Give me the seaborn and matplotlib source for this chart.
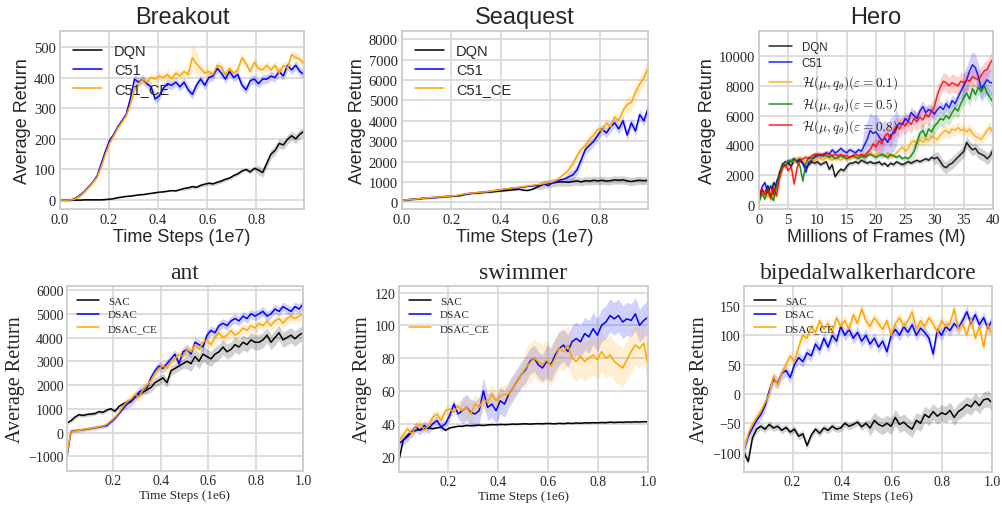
import numpy as np
import matplotlib
matplotlib.use("Agg")
import matplotlib.pyplot as plt
import seaborn as sns

# ---------------- data ----------------
# Atari (top row), x in units of 1e7 steps
atari_steps = np.linspace(0, 0.995, 60)

breakout_dqn = [0, 0, 0, 0, 0, 0, 1, 1, 1, 1,
                1, 2, 3, 5, 8, 10, 12, 13, 15, 17,
                18, 20, 22, 24, 26, 27, 29, 31, 30, 34,
                38, 40, 44, 42, 48, 52, 55, 53, 58, 62,
                68, 72, 80, 86, 95, 100, 92, 104, 98, 90,
                120, 150, 162, 185, 180, 198, 210, 200, 215, 225]
breakout_c51 = [0, 0, 0, 2, 8, 18, 30, 45, 60, 80,
                120, 160, 195, 215, 240, 260, 280, 330, 395, 385,
                395, 380, 370, 330, 340, 365, 380, 375, 385, 370,
                385, 360, 345, 375, 395, 375, 400, 405, 430, 415,
                395, 420, 400, 410, 375, 360, 390, 395, 380, 395,
                395, 405, 400, 420, 405, 440, 425, 440, 420, 410]
breakout_ce = [0, 0, 0, 1, 6, 15, 28, 42, 58, 75,
               110, 150, 185, 210, 235, 255, 275, 310, 360, 380,
               395, 385, 400, 395, 405, 400, 410, 395, 415, 405,
               420, 410, 465, 445, 430, 415, 420, 410, 440, 435,
               410, 430, 415, 425, 465, 445, 420, 450, 430, 425,
               440, 425, 440, 415, 440, 430, 475, 465, 460, 445]
breakout_dqn_sd = [2] * 30 + [6] * 18 + [15] * 12
breakout_c51_sd = [5] * 18 + [15] * 42
breakout_ce_sd = [5] * 18 + [15] * 14 + [45] * 2 + [15] * 26

seaquest_dqn = [100, 110, 130, 150, 170, 190, 200, 220, 230, 250,
                270, 280, 300, 310, 330, 380, 420, 440, 450, 470,
                490, 500, 520, 540, 560, 580, 600, 620, 640, 600,
                580, 620, 700, 800, 880, 920, 950, 980, 1000, 1000,
                980, 1020, 1050, 1000, 1060, 1040, 1080, 1050, 1080, 1040,
                1060, 1100, 1080, 1100, 1050, 1020, 1060, 1080, 1060, 1080]
seaquest_c51 = [100, 120, 140, 160, 170, 200, 210, 230, 240, 260,
                280, 290, 300, 320, 350, 400, 430, 450, 470, 490,
                520, 530, 560, 600, 620, 650, 680, 700, 720, 740,
                780, 800, 820, 840, 900, 820, 950, 1000, 1100, 1150,
                1250, 1350, 1600, 2100, 2600, 2800, 3000, 3300, 3600, 3400,
                3700, 3900, 3600, 4000, 3300, 3900, 3500, 4300, 4000, 4600]
seaquest_ce = [100, 115, 135, 150, 175, 195, 215, 225, 245, 265,
               280, 295, 310, 330, 370, 410, 440, 455, 480, 500,
               510, 540, 570, 590, 630, 660, 690, 710, 740, 770,
               800, 830, 860, 880, 920, 960, 1000, 1100, 1250, 1400,
               1600, 1900, 2300, 2600, 2800, 3100, 3300, 3600, 3500, 3900,
               3700, 4200, 4000, 4500, 4800, 4900, 5400, 5800, 6100, 6600]
seaquest_dqn_sd = [40] * 33 + [200] * 27
seaquest_c51_sd = [40] * 40 + [250] * 20
seaquest_ce_sd = [40] * 40 + [250] * 14 + [400] * 6

# Hero, x in millions of frames
hero_frames = np.linspace(0, 40, 81)
hero_dqn = [600, 1000, 800, 1300, 600, 1500, 1200, 2200, 2700, 2900,
            2800, 2600, 3000, 2900, 3000, 2800, 2500, 2700, 2900, 2800,
            2900, 2700, 2800, 2900, 2400, 2700, 1900, 2200, 2400, 2300,
            2600, 2800, 2800, 2900, 2800, 3000, 2900, 2800, 2900, 2800,
            2800, 2900, 2700, 2800, 2600, 2800, 2700, 2900, 2800, 2700,
            2800, 2900, 2800, 2900, 3000, 2900, 3000, 3100, 3000, 3200,
            3100, 3200, 2900, 2600, 2500, 2700, 2800, 3000, 3200, 3400,
            3600, 4200, 3900, 3700, 3800, 3500, 3400, 3300, 3100, 3300,
            3700]
hero_c51 = [400, 1200, 1500, 800, 1300, 700, 1600, 2000, 2500, 2900,
            2800, 3000, 3100, 3000, 3100, 2800, 2200, 2900, 3000, 3200,
            3300, 3400, 3300, 3500, 3400, 3700, 3500, 3600, 3800, 3600,
            3500, 3700, 3600, 3500, 3700, 3600, 4000, 4400, 5000, 4800,
            4900, 4600, 4300, 4500, 4200, 4700, 4800, 5200, 5500, 5400,
            5800, 5600, 6200, 6000, 5800, 6300, 6600, 6200, 6400, 6300,
            6100, 6400, 6600, 6400, 6800, 6500, 7000, 6800, 7200, 7600,
            8000, 8400, 9000, 9400, 9200, 8600, 7800, 8100, 8400, 8200,
            8200]
hero_eps01 = [300, 600, 900, 500, 1000, 400, 1100, 1800, 2400, 2800,
              3000, 3000, 2900, 3100, 3200, 3000, 2800, 3000, 3100, 2900,
              3200, 3100, 3000, 3200, 3100, 3000, 3200, 3100, 3000, 3200,
              3100, 3200, 3300, 3200, 3300, 3200, 3300, 3400, 3500, 3400,
              3300, 3500, 3400, 3300, 3500, 3200, 3300, 3500, 3700, 3900,
              3600, 3800, 4200, 4300, 4100, 4400, 4200, 4500, 4300, 4600,
              4500, 4400, 4700, 4900, 5000, 4800, 5100, 5000, 5200, 5000,
              5100, 4900, 5100, 4800, 4600, 4500, 4400, 4700, 5000, 5200,
              4800]
hero_eps05 = [200, 800, 400, 1100, 600, 300, 1300, 2000, 2800, 2600,
              3000, 2900, 3100, 2900, 2600, 1600, 2800, 3200, 3100, 3300,
              3400, 3300, 3400, 3300, 3200, 3300, 3100, 3200, 3300, 3200,
              3100, 3200, 3300, 3200, 3100, 3300, 3200, 3300, 3400, 3300,
              3200, 3300, 3400, 3300, 3200, 3400, 3300, 3200, 3300, 3100,
              3200, 3100, 3300, 3600, 4200, 4800, 5000, 4600, 5100, 4900,
              5300, 5500, 5800, 5700, 6000, 5800, 6200, 6500, 6300, 6800,
              7200, 7500, 7100, 7800, 7400, 7900, 7600, 8000, 7500, 7200,
              6900]
hero_eps08 = [500, 1100, 700, 1000, 400, 1200, 600, 1800, 2500, 2700,
              2300, 2600, 1400, 2500, 3000, 3100, 3200, 3100, 3300, 3400,
              3400, 3300, 3400, 3500, 3400, 3300, 3400, 3300, 3400, 3300,
              3300, 3200, 3300, 3400, 3300, 3400, 3300, 3500, 3700, 4100,
              3900, 4300, 4100, 4600, 4800, 4400, 5000, 5300, 5100, 5500,
              5300, 5600, 5400, 5800, 5600, 5900, 5700, 6100, 5900, 6300,
              6600, 7400, 7900, 8300, 8200, 8000, 8200, 8100, 8000, 8300,
              8200, 8400, 8300, 8600, 8500, 8400, 8700, 9000, 9100, 9500,
              9800]
hero_dqn_sd = [150] * 60 + [400] * 21
hero_c51_sd = [200] * 36 + [1200] * 12 + [400] * 22 + [900] * 11
hero_eps01_sd = [150] * 50 + [400] * 31
hero_eps05_sd = [150] * 52 + [500] * 29
hero_eps08_sd = [200] * 40 + [600] * 41

# MuJoCo / Box2D (bottom row), x in units of 1e6 steps
mujoco_steps = np.linspace(0.005, 1.0, 60)

ant_sac = [400, 500, 650, 750, 720, 760, 780, 800, 880, 850,
           950, 1000, 900, 1100, 1200, 1300, 1350, 1500, 1600, 1700,
           1800, 1900, 2100, 2200, 2300, 2100, 2600, 2700, 2800, 2900,
           3000, 2900, 3200, 3000, 3300, 3200, 3100, 3300, 3400, 3600,
           3400, 3500, 3700, 3600, 3800, 3700, 3900, 3800, 3800, 3900,
           4100, 3800, 4000, 4200, 3900, 4000, 4100, 3950, 4100, 4200]
ant_dsac = [-1000, 50, 80, 100, 120, 150, 170, 200, 230, 260,
            300, 450, 600, 800, 1000, 1200, 1300, 1500, 1700, 1800,
            1900, 2300, 2600, 2800, 2700, 2900, 3100, 3300, 2900, 3400,
            3500, 3300, 3800, 3700, 3600, 4100, 4300, 4200, 4500, 4600,
            4500, 4700, 4800, 4700, 4900, 4800, 5000, 4900, 5000, 5100,
            4900, 5000, 5200, 5100, 5300, 5200, 5100, 5300, 5200, 5400]
ant_ce = [-900, 30, 70, 100, 130, 160, 180, 210, 250, 280,
          350, 500, 650, 850, 1100, 1300, 1400, 1600, 1500, 1800,
          2000, 2200, 2500, 2700, 2800, 2700, 3000, 3100, 3300, 3200,
          3500, 3400, 3700, 3500, 3800, 3900, 3700, 4000, 4200, 4000,
          4100, 4300, 4100, 4200, 4400, 4300, 4500, 4400, 4600, 4500,
          4700, 4500, 4700, 4800, 4600, 4800, 4900, 4800, 4900, 5000]
ant_sac_sd = [80] * 20 + [200] * 10 + [320] * 30
ant_dsac_sd = [80] * 15 + [200] * 45
ant_ce_sd = [80] * 15 + [220] * 45

swimmer_sac = [18, 30, 33, 35, 36, 36.5, 37, 37.5, 37, 37.5,
               38, 36, 37.5, 38, 38.5, 38.5, 39, 38.8, 39, 39.2,
               39, 39.3, 39.5, 39.4, 39.6, 39.5, 39.6, 39.8, 39.7, 39.9,
               40, 39.8, 40, 40.1, 40, 40.2, 40.1, 40, 40.3, 40.1,
               40.4, 40.2, 40.5, 40.3, 40.6, 40.5, 40.7, 40.6, 40.8, 40.7,
               41, 40.8, 41, 40.9, 41.1, 41, 41.2, 41.1, 41.3, 41.2]
swimmer_dsac = [28, 30, 32, 35, 38, 36, 39, 37, 40, 42,
                38, 40, 45, 52, 46, 48, 50, 47, 46, 48,
                60, 50, 52, 48, 54, 52, 58, 62, 66, 70,
                73, 78, 80, 76, 74, 78, 76, 82, 86, 88,
                84, 90, 92, 90, 95, 93, 98, 94, 100, 102,
                106, 104, 106, 102, 104, 103, 107, 100, 103, 105]
swimmer_ce = [30, 33, 37, 34, 38, 40, 36, 39, 44, 46,
              42, 48, 49, 47, 51, 48, 50, 46, 52, 50,
              55, 53, 58, 54, 57, 58, 58, 62, 66, 70,
              74, 77, 80, 78, 76, 79, 75, 80, 86, 84,
              88, 80, 78, 81, 78, 80, 82, 79, 84, 80,
              82, 78, 76, 74, 79, 84, 88, 86, 89, 76]
swimmer_sac_sd = [0.5] * 60
swimmer_dsac_sd = [3] * 15 + [8] * 20 + [10] * 25
swimmer_ce_sd = [3] * 15 + [6] * 15 + [12] * 30

biped_sac = [-100, -115, -75, -60, -55, -60, -52, -58, -55, -62,
             -57, -65, -60, -72, -68, -88, -70, -60, -67, -58,
             -62, -55, -60, -58, -50, -55, -52, -48, -56, -50,
             -58, -45, -52, -55, -50, -55, -40, -52, -48, -55,
             -60, -45, -50, -35, -40, -30, -38, -32, -35, -28,
             -40, -30, -25, -18, -22, -12, -20, -10, -8, -15]
biped_dsac = [-95, -72, -58, -45, -35, -20, 5, 25, 18, 35,
              40, 28, 50, 62, 55, 70, 65, 85, 75, 95,
              80, 100, 90, 115, 100, 110, 95, 105, 90, 100,
              85, 95, 80, 90, 72, 100, 110, 100, 115, 105,
              118, 100, 112, 105, 95, 68, 110, 100, 115, 108,
              120, 112, 125, 140, 120, 135, 118, 130, 112, 125]
biped_ce = [-95, -68, -52, -40, -30, -15, 0, 30, 15, 35,
            50, 65, 55, 80, 100, 95, 115, 105, 125, 110,
            120, 105, 130, 115, 125, 110, 135, 120, 145, 125,
            115, 130, 120, 110, 125, 100, 120, 130, 115, 125,
            140, 110, 125, 115, 130, 120, 105, 125, 115, 120,
            145, 110, 120, 100, 130, 95, 115, 80, 120, 100]
biped_sac_sd = [6] * 30 + [14] * 30
biped_dsac_sd = [10] * 60
biped_ce_sd = [10] * 60

# ---------------- style ----------------
sns.set_style("whitegrid", {"grid.color": "#dadada", "axes.edgecolor": "#cccccc"})
plt.rcParams["font.family"] = ["Liberation Serif", "DejaVu Serif"]
plt.rcParams["mathtext.fontset"] = "cm"
plt.rcParams["grid.linewidth"] = 1.3
plt.rcParams["axes.linewidth"] = 1.3

SANS = ["Liberation Sans", "DejaVu Sans"]
SERIF = ["Liberation Serif", "DejaVu Serif"]

fig = plt.figure(figsize=(10.03, 5.06), dpi=100)
W, H = 1003, 506


def add_ax(l, t, r, b):
    return fig.add_axes([l / W, 1 - b / H, (r - l) / W, (b - t) / H])


def draw(ax, x, curves, alpha=1.0, lw=1.1):
    for label, color, y, sd in curves:
        y = np.asarray(y, float)
        sd = np.asarray(sd, float)
        sns.lineplot(x=x, y=y, ax=ax, color=color, lw=lw, alpha=alpha,
                     label=label, estimator=None)
        ax.fill_between(x, y - sd, y + sd, color=color, alpha=0.18, lw=0)


def finish(ax, title, xlabel, family, title_size, label_size, xlabel_size,
           tick_size, legend_size, legend_family, tick_pad):
    ax.set_title(title, fontsize=title_size, family=family, color="#262626")
    ax.set_xlabel(xlabel, fontsize=xlabel_size, family=family, color="#262626", labelpad=1)
    ax.set_ylabel("Average Return", fontsize=label_size, family=family, color="#262626",
                  labelpad=2)
    for t in ax.get_xticklabels() + ax.get_yticklabels():
        t.set_family(SERIF)
        t.set_fontsize(tick_size)
    ax.tick_params(length=0, pad=tick_pad)
    return ax.legend(loc="upper left", frameon=False,
                     prop={"family": legend_family, "size": legend_size},
                     handlelength=2.0, labelspacing=0.35)


# Breakout
ax = add_ax(60, 32, 304, 210)
draw(ax, atari_steps, [("DQN", "black", breakout_dqn, breakout_dqn_sd),
                       ("C51", "blue", breakout_c51, breakout_c51_sd),
                       ("C51_CE", "orange", breakout_ce, breakout_ce_sd)])
ax.set_xlim(0, 0.995)
ax.set_ylim(-29, 552)
ax.set_xticks([0.0, 0.2, 0.4, 0.6, 0.8])
ax.set_xticklabels(["0.0", "0.2", "0.4", "0.6", "0.8"])
ax.set_yticks(range(0, 501, 100))
finish(ax, "Breakout", "Time Steps (1e7)", SANS, 17, 13, 13, 10.5, 10.5, SANS, 3)

# Seaquest
ax = add_ax(402, 32, 648, 210)
draw(ax, atari_steps, [("DQN", "black", seaquest_dqn, seaquest_dqn_sd),
                       ("C51", "blue", seaquest_c51, seaquest_c51_sd),
                       ("C51_CE", "orange", seaquest_ce, seaquest_ce_sd)])
ax.set_xlim(0, 0.995)
ax.set_ylim(-330, 8410)
ax.set_xticks([0.0, 0.2, 0.4, 0.6, 0.8])
ax.set_xticklabels(["0.0", "0.2", "0.4", "0.6", "0.8"])
ax.set_yticks(range(0, 8001, 1000))
finish(ax, "Seaquest", "Time Steps (1e7)", SANS, 17, 13, 13, 10.5, 10.5, SANS, 3)

# Hero
ax = add_ax(759, 32, 993, 210)
draw(ax, hero_frames, [("DQN", "black", hero_dqn, hero_dqn_sd),
                       ("C51", "blue", hero_c51, hero_c51_sd),
                       (r"$\mathcal{H}(\mu, q_\theta)(\varepsilon = 0.1)$", "orange", hero_eps01, hero_eps01_sd),
                       (r"$\mathcal{H}(\mu, q_\theta)(\varepsilon = 0.5)$", "green", hero_eps05, hero_eps05_sd),
                       (r"$\mathcal{H}(\mu, q_\theta)(\varepsilon = 0.8)$", "red", hero_eps08, hero_eps08_sd)],
     alpha=0.85)
ax.set_xlim(0, 40)
ax.set_ylim(-270, 11670)
ax.set_xticks(range(0, 41, 5))
ax.set_yticks(range(0, 10001, 2000))
leg = finish(ax, "Hero", "Millions of Frames (M)", SANS, 17, 13, 13, 10.5, 8.3, SANS, 3)
for t in leg.get_texts()[2:]:
    t.set_fontsize(9.6)

# ant
ax = add_ax(67, 287, 303, 472)
draw(ax, mujoco_steps, [("SAC", "black", ant_sac, ant_sac_sd),
                        ("DSAC", "blue", ant_dsac, ant_dsac_sd),
                        ("DSAC_CE", "orange", ant_ce, ant_ce_sd)])
ax.set_xlim(0.005, 1.0)
ax.set_ylim(-1620, 6170)
ax.set_xticks([0.2, 0.4, 0.6, 0.8, 1.0])
ax.set_yticks(range(-1000, 6001, 1000))
finish(ax, "ant", "Time Steps (1e6)", SERIF, 17, 14.5, 9.5, 10, 8, SERIF, 2.5)

# swimmer
ax = add_ax(399, 287, 648, 473)
draw(ax, mujoco_steps, [("SAC", "black", swimmer_sac, swimmer_sac_sd),
                        ("DSAC", "blue", swimmer_dsac, swimmer_dsac_sd),
                        ("DSAC_CE", "orange", swimmer_ce, swimmer_ce_sd)])
ax.set_xlim(0.005, 1.0)
ax.set_ylim(10.6, 124)
ax.set_xticks([0.2, 0.4, 0.6, 0.8, 1.0])
ax.set_yticks(range(20, 121, 20))
finish(ax, "swimmer", "Time Steps (1e6)", SERIF, 17, 14.5, 9.5, 10, 8, SERIF, 2.5)

# bipedalwalkerhardcore
ax = add_ax(744, 287, 992, 473)
draw(ax, mujoco_steps, [("SAC", "black", biped_sac, biped_sac_sd),
                        ("DSAC", "blue", biped_dsac, biped_dsac_sd),
                        ("DSAC_CE", "orange", biped_ce, biped_ce_sd)])
ax.set_xlim(0.005, 1.0)
ax.set_ylim(-133, 184)
ax.set_xticks([0.2, 0.4, 0.6, 0.8, 1.0])
ax.set_yticks(range(-100, 151, 50))
finish(ax, "bipedalwalkerhardcore", "Time Steps (1e6)", SERIF, 17, 14.5, 9.5, 10, 8, SERIF, 2.5)

fig.savefig("out.png", dpi=100, facecolor="white")
